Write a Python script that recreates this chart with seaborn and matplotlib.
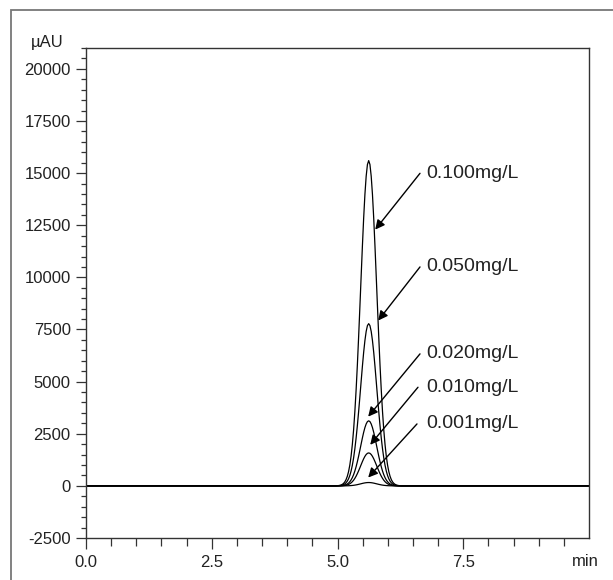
import matplotlib
matplotlib.use("Agg")
import matplotlib.pyplot as plt
from matplotlib.patches import Rectangle
from matplotlib.ticker import MultipleLocator, FixedLocator
import pandas as pd
import seaborn as sns

# ---- data ----
concentrations = ["0.100mg/L", "0.050mg/L", "0.020mg/L", "0.010mg/L", "0.001mg/L"]
peak_heights = [15600, 7780, 3120, 1580, 160]          # µAU at the apex
peak_time = 5.62                                          # min
# offsets from the apex (min) at which the peak was read
offsets = [-0.650, -0.625, -0.600, -0.575, -0.550, -0.525, -0.500, -0.475, -0.450,
           -0.425, -0.400, -0.375, -0.350, -0.325, -0.300, -0.275, -0.250, -0.225,
           -0.200, -0.175, -0.150, -0.125, -0.100, -0.075, -0.050, -0.025, 0.000,
           0.025, 0.050, 0.075, 0.100, 0.125, 0.150, 0.175, 0.200, 0.225, 0.250,
           0.275, 0.300, 0.325, 0.350, 0.375, 0.400, 0.425, 0.450, 0.475, 0.500,
           0.525, 0.550, 0.575, 0.600, 0.625, 0.650]
# normalized peak profile read from the largest peak
profile = [0.0, 0.0005, 0.0009, 0.0016, 0.0027, 0.0046, 0.0076, 0.0122, 0.0192,
           0.0294, 0.0439, 0.0641, 0.0914, 0.1271, 0.172, 0.2283, 0.295, 0.372,
           0.458, 0.5498, 0.644, 0.737, 0.823, 0.8959, 0.952, 0.9879, 1.0,
           0.9879, 0.952, 0.8959, 0.823, 0.737, 0.644, 0.5498, 0.458, 0.372, 0.295,
           0.2283, 0.172, 0.1271, 0.0914, 0.0641, 0.0439, 0.0294, 0.0192, 0.0122, 0.0076,
           0.0046, 0.0027, 0.0016, 0.0009, 0.0005, 0.0]
run_start, run_end = 0.0, 10.0

# annotation geometry (data coords)
label_pos = [(6.77, 14990), (6.77, 10500), (6.77, 6330), (6.77, 4730), (6.77, 2970)]
arrow_start = [(6.64, 14990), (6.64, 10500), (6.64, 6330), (6.60, 4730), (6.58, 2970)]
arrow_tip = [(5.75, 12290), (5.81, 7930), (5.61, 3320), (5.65, 1970), (5.61, 400)]

rows = []
for conc, h in zip(concentrations, peak_heights):
    rows.append((run_start, 0.0, conc))
    for d, p in zip(offsets, profile):
        rows.append((peak_time + d, h * p, conc))
    rows.append((run_end, 0.0, conc))
df = pd.DataFrame(rows, columns=["time", "signal", "conc"])

sns.set_style("ticks")
plt.rcParams["font.family"] = ["Liberation Sans", "DejaVu Sans"]
plt.rcParams["axes.unicode_minus"] = False

fig = plt.figure(figsize=(6.13, 5.80), dpi=100)
ax = fig.add_axes([86 / 613, 42 / 580, 503 / 613, 490 / 580])

sns.lineplot(data=df, x="time", y="signal", hue="conc", units="conc",
             estimator=None, sort=False, palette=["black"] * 5,
             legend=False, linewidth=0.9, ax=ax)

ax.set_xlim(0, 10)
ax.set_ylim(-2500, 21000)
ax.set_xlabel("")
ax.set_ylabel("")

ax.xaxis.set_major_locator(FixedLocator([0, 2.5, 5.0, 7.5]))
ax.set_xticklabels(["0.0", "2.5", "5.0", "7.5"])
ax.xaxis.set_minor_locator(FixedLocator([v * 0.5 for v in range(0, 20) if v % 5 != 0]))
ax.yaxis.set_major_locator(MultipleLocator(2500))
ax.yaxis.set_minor_locator(MultipleLocator(500))

for s in ax.spines.values():
    s.set_visible(True)
    s.set_color("#333333")
    s.set_linewidth(1.0)

ax.tick_params(axis="y", which="major", length=7.5, width=0.9, color="#333333",
               labelsize=12, labelcolor="#222222", pad=3.5)
ax.tick_params(axis="y", which="minor", length=3.5, width=0.9, color="#333333")
ax.tick_params(axis="x", which="major", length=8, width=0.9, color="#333333",
               labelsize=12, labelcolor="#222222", pad=4.5)
ax.tick_params(axis="x", which="minor", length=6, width=0.9, color="#333333")

for lab, (tx, ty), (sx, sy), (ex, ey) in zip(concentrations, label_pos, arrow_start, arrow_tip):
    ax.annotate("", xy=(ex, ey), xytext=(sx, sy),
                arrowprops=dict(arrowstyle="-|>", color="black", lw=1.0,
                                mutation_scale=14, shrinkA=0, shrinkB=0))
    ax.text(tx, ty, lab, ha="left", va="center", fontsize=14, color="#222222")

fig.text(47.5 / 613, 1 - 42 / 580, "µAU", ha="center", va="center",
         fontsize=12, color="#222222")
fig.text(585 / 613, 1 - 561 / 580, "min", ha="center", va="center",
         fontsize=12, color="#222222")

# outer frame (open at right/bottom as in the reference)
fig.patches.append(Rectangle((11 / 613, -0.1), 1.2, 1 - 10 / 580 + 0.1,
                             transform=fig.transFigure, fill=False,
                             edgecolor="#777777", linewidth=1.3))

fig.savefig("out.png", dpi=100)
